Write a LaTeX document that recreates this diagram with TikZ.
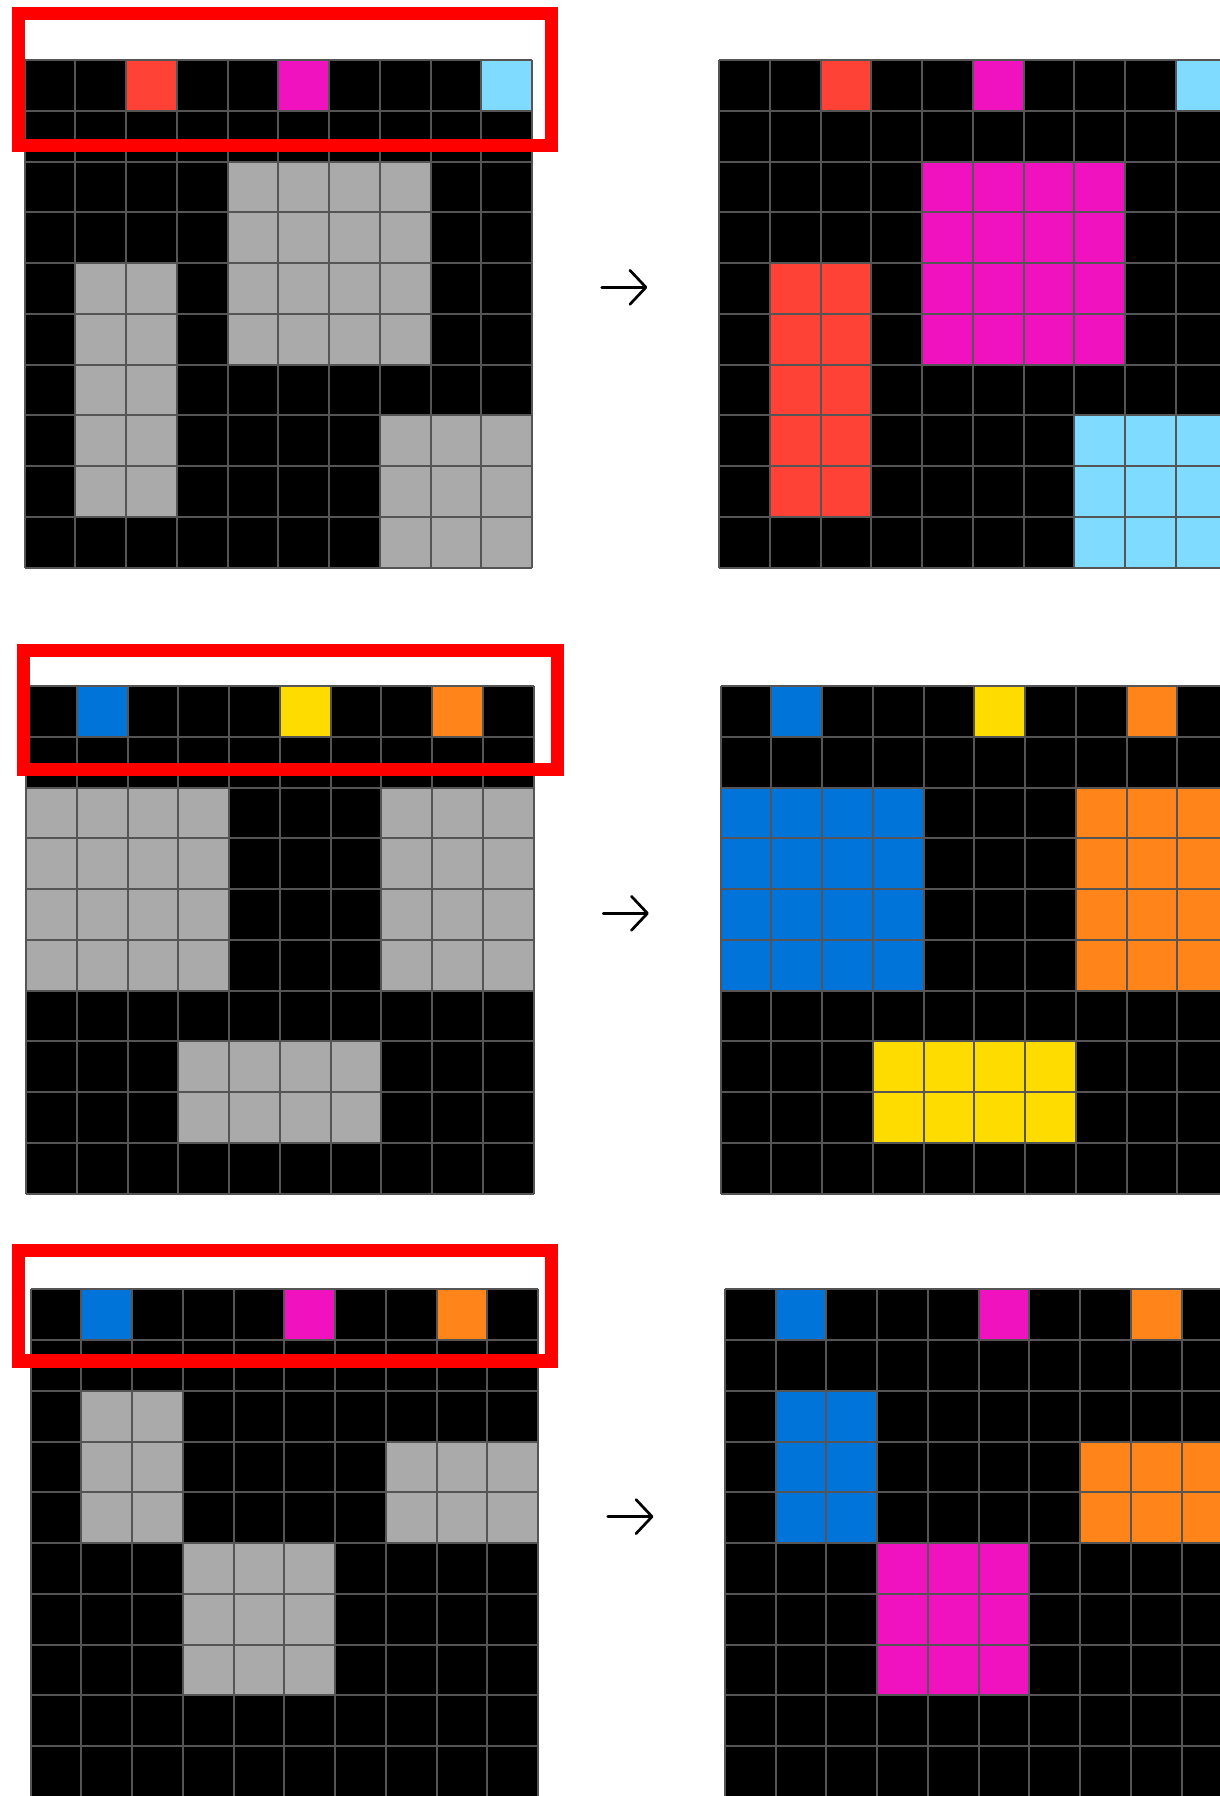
\documentclass[tikz,border=0pt]{standalone}
\usetikzlibrary{arrows.meta}

\definecolor{arc0}{HTML}{000000}
\definecolor{arc1}{HTML}{0074D9}
\definecolor{arc2}{HTML}{FF4136}
\definecolor{arc4}{HTML}{FFDC00}
\definecolor{arc5}{HTML}{AAAAAA}
\definecolor{arc6}{HTML}{F012BE}
\definecolor{arc7}{HTML}{FF851B}
\definecolor{arc8}{HTML}{7FDBFF}
\definecolor{gridgray}{HTML}{555555}

\newcommand{\cellsz}{50.75}

% one 10x10 grid, top left corner at (#1,#2)
\newcommand{\arcgrid}[3]{%
  \foreach \cells [count=\row from 0] in #3 {
    \foreach \v [count=\col from 0] in \cells {
      \path [cellbox, fill=arc\v] ({#1+\col*\cellsz},{#2+\row*\cellsz}) rectangle +(\cellsz,\cellsz);
    }
  }
  \foreach \i in {0,...,10} {
    \draw [gridline] ({#1+\i*\cellsz},#2) -- +(0,10*\cellsz);
    \draw [gridline] (#1,{#2+\i*\cellsz}) -- +(10*\cellsz,0);
  }
}

\newcommand{\pairAin}{{0,0,2,0,0,6,0,0,0,8},{0,0,0,0,0,0,0,0,0,0},{0,0,0,0,5,5,5,5,0,0},{0,0,0,0,5,5,5,5,0,0},{0,5,5,0,5,5,5,5,0,0},{0,5,5,0,5,5,5,5,0,0},{0,5,5,0,0,0,0,0,0,0},{0,5,5,0,0,0,0,5,5,5},{0,5,5,0,0,0,0,5,5,5},{0,0,0,0,0,0,0,5,5,5}}
\newcommand{\pairAout}{{0,0,2,0,0,6,0,0,0,8},{0,0,0,0,0,0,0,0,0,0},{0,0,0,0,6,6,6,6,0,0},{0,0,0,0,6,6,6,6,0,0},{0,2,2,0,6,6,6,6,0,0},{0,2,2,0,6,6,6,6,0,0},{0,2,2,0,0,0,0,0,0,0},{0,2,2,0,0,0,0,8,8,8},{0,2,2,0,0,0,0,8,8,8},{0,0,0,0,0,0,0,8,8,8}}
\newcommand{\pairBin}{{0,1,0,0,0,4,0,0,7,0},{0,0,0,0,0,0,0,0,0,0},{5,5,5,5,0,0,0,5,5,5},{5,5,5,5,0,0,0,5,5,5},{5,5,5,5,0,0,0,5,5,5},{5,5,5,5,0,0,0,5,5,5},{0,0,0,0,0,0,0,0,0,0},{0,0,0,5,5,5,5,0,0,0},{0,0,0,5,5,5,5,0,0,0},{0,0,0,0,0,0,0,0,0,0}}
\newcommand{\pairBout}{{0,1,0,0,0,4,0,0,7,0},{0,0,0,0,0,0,0,0,0,0},{1,1,1,1,0,0,0,7,7,7},{1,1,1,1,0,0,0,7,7,7},{1,1,1,1,0,0,0,7,7,7},{1,1,1,1,0,0,0,7,7,7},{0,0,0,0,0,0,0,0,0,0},{0,0,0,4,4,4,4,0,0,0},{0,0,0,4,4,4,4,0,0,0},{0,0,0,0,0,0,0,0,0,0}}
\newcommand{\pairCin}{{0,1,0,0,0,6,0,0,7,0},{0,0,0,0,0,0,0,0,0,0},{0,5,5,0,0,0,0,0,0,0},{0,5,5,0,0,0,0,5,5,5},{0,5,5,0,0,0,0,5,5,5},{0,0,0,5,5,5,0,0,0,0},{0,0,0,5,5,5,0,0,0,0},{0,0,0,5,5,5,0,0,0,0},{0,0,0,0,0,0,0,0,0,0},{0,0,0,0,0,0,0,0,0,0}}
\newcommand{\pairCout}{{0,1,0,0,0,6,0,0,7,0},{0,0,0,0,0,0,0,0,0,0},{0,1,1,0,0,0,0,0,0,0},{0,1,1,0,0,0,0,7,7,7},{0,1,1,0,0,0,0,7,7,7},{0,0,0,6,6,6,0,0,0,0},{0,0,0,6,6,6,0,0,0,0},{0,0,0,6,6,6,0,0,0,0},{0,0,0,0,0,0,0,0,0,0},{0,0,0,0,0,0,0,0,0,0}}

\begin{document}
\begin{tikzpicture}[
    x=0.5pt, y=-0.5pt,
    cellbox/.style={draw=none},
    gridline/.style={draw=gridgray, line width=1pt},
    selbox/.style={draw=red, line width=6.7pt},
    maparrow/.style={draw=black, line width=1.35pt, line cap=round, -{Straight Barb[length=8pt, width=17pt, round]}}
]
    \useasboundingbox (0,0) rectangle (1220,1796);
    \clip (0,0) rectangle (1220,1796);
    \fill [white] (0,0) rectangle (1220,1796);

    % first pair
    \arcgrid{24.5}{60}{\pairAin}
    \arcgrid{719}{60}{\pairAout}
    % second pair
    \arcgrid{26}{686}{\pairBin}
    \arcgrid{720.5}{686}{\pairBout}
    % third pair
    \arcgrid{30.6}{1289.3}{\pairCin}
    \arcgrid{724.9}{1289.3}{\pairCout}

    % highlighted top rows
    \draw [selbox] (18.2,13.4) rectangle (551.5,145.5);
    \draw [selbox] (23.4,650.7) rectangle (557.5,769.2);
    \draw [selbox] (18.2,1250.7) rectangle (551.5,1361);

    \coordinate (mapAs) at (601.7,287.3);
    \coordinate (mapAe) at (647.3,287.3);
    \coordinate (mapBs) at (603.2,913.3);
    \coordinate (mapBe) at (648.8,913.3);
    \coordinate (mapCs) at (607.8,1516.6);
    \coordinate (mapCe) at (653.4,1516.6);

    \path [maparrow] (mapAs) -- (mapAe);
    \path [maparrow] (mapBs) -- (mapBe);
    \path [maparrow] (mapCs) -- (mapCe);
\end{tikzpicture}
\end{document}
